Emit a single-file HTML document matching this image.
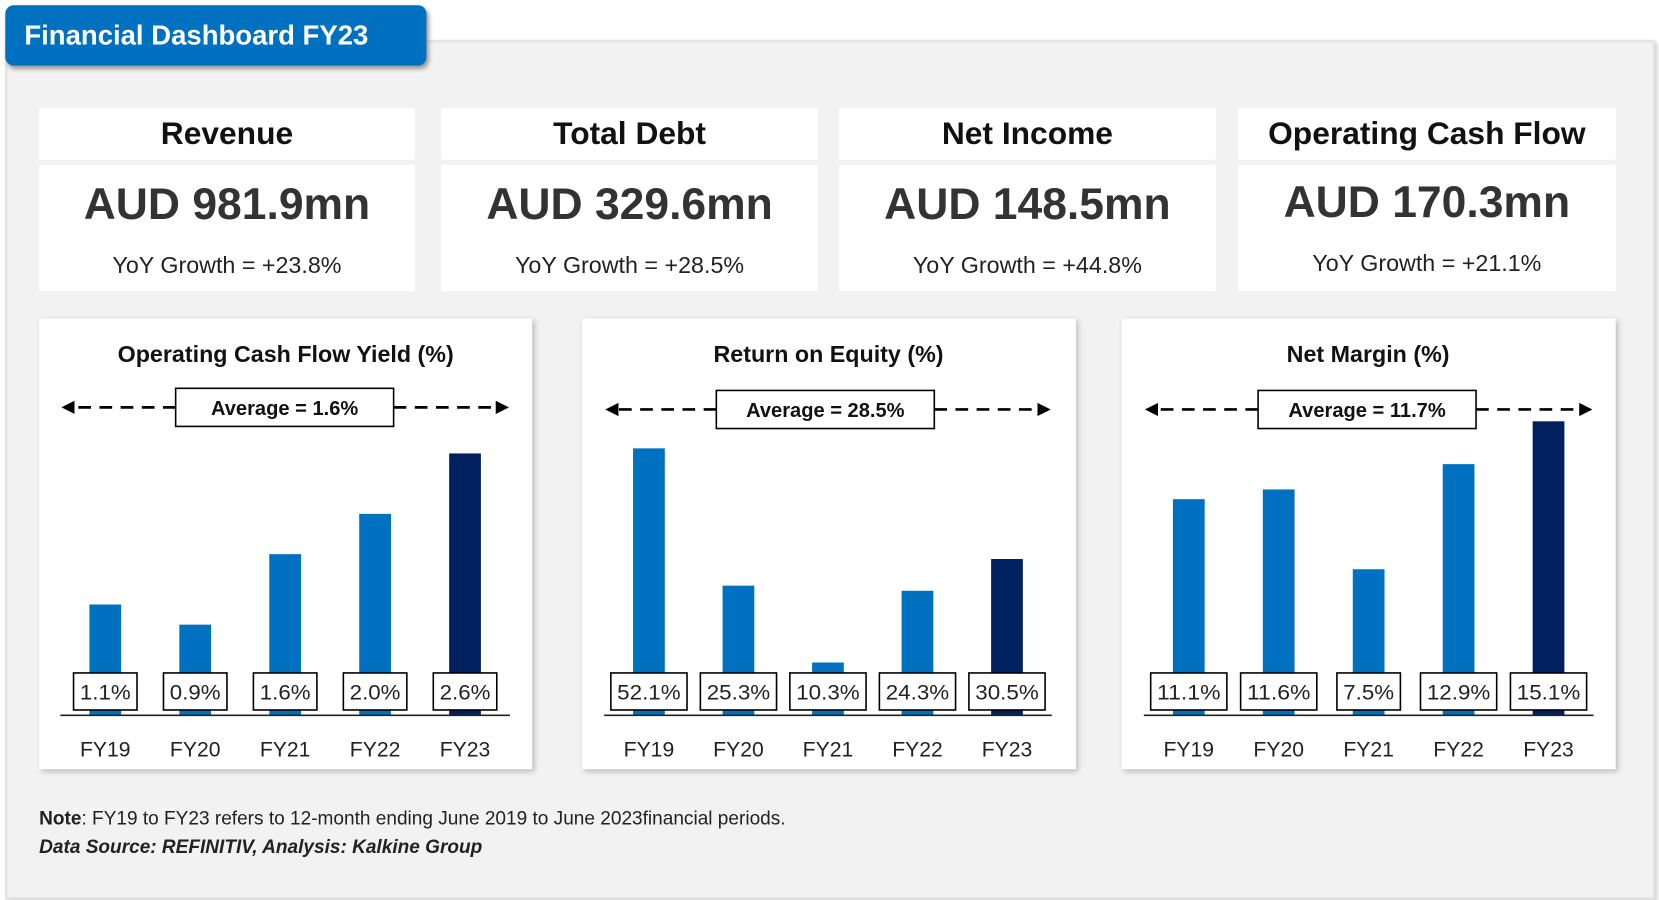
<!DOCTYPE html>
<html><head><meta charset="utf-8">
<style>
html,body{margin:0;padding:0;width:1659px;height:900px;overflow:hidden;background:#fff;font-family:"Liberation Sans",sans-serif;}
#root{position:absolute;left:0;top:0;width:1568px;height:851px;transform:scale(1.0581);transform-origin:0 0;}
.abs{position:absolute;}
.panel{position:absolute;left:5px;top:38px;width:1555px;height:808px;background:#f2f2f2;border:2px solid #e2e2e2;box-shadow:2px 2px 4px #ccc;}
.tab{position:absolute;left:5px;top:5px;width:398px;height:57px;background:#0070c0;border-radius:8px;color:#fff;font-weight:bold;font-size:26px;line-height:57px;padding-left:18px;box-sizing:border-box;box-shadow:2px 3px 4px #999;}
.kh{position:absolute;height:49px;background:#fff;text-align:center;font-weight:bold;font-size:30px;line-height:49px;color:#111;}
.kb{position:absolute;height:119px;background:#fff;text-align:center;color:#333;}
.kv{position:absolute;left:0;right:0;top:13px;font-weight:bold;font-size:42px;}
.ky{position:absolute;left:0;right:0;top:82px;font-size:22px;color:#222;}
.cp{position:absolute;top:301px;height:426px;background:#fff;box-shadow:2px 2px 5px #bbb;}
svg text{font-family:"Liberation Sans",sans-serif;}
</style></head><body>
<div id="root">
<div class="panel"></div>
<div class="tab">Financial Dashboard FY23</div>

<div class="kh" style="left:37px;width:355px;top:102px">Revenue</div>
<div class="kb" style="left:37px;width:355px;top:156px"><div class="kv">AUD 981.9mn</div><div class="ky">YoY Growth = +23.8%</div></div>
<div class="kh" style="left:417px;width:356px;top:102px">Total Debt</div>
<div class="kb" style="left:417px;width:356px;top:156px"><div class="kv">AUD 329.6mn</div><div class="ky">YoY Growth = +28.5%</div></div>
<div class="kh" style="left:793px;width:356px;top:102px">Net Income</div>
<div class="kb" style="left:793px;width:356px;top:156px"><div class="kv">AUD 148.5mn</div><div class="ky">YoY Growth = +44.8%</div></div>
<div class="kh" style="left:1170px;width:357px;top:102px">Operating Cash Flow</div>
<div class="kb" style="left:1170px;width:357px;top:156px"><div class="kv" style="top:11px">AUD 170.3mn</div><div class="ky" style="top:80px">YoY Growth = +21.1%</div></div>

<div class="cp" style="left:37px;width:466px"></div>
<div class="cp" style="left:550px;width:467px"></div>
<div class="cp" style="left:1060px;width:467px"></div>

<svg id="charts" class="abs" style="left:0;top:0" width="1568" height="851">
<defs><marker id="ah" markerWidth="5" markerHeight="5" refX="3" refY="2.5" orient="auto"><path d="M0,0 L5,2.5 L0,5 z" fill="#000"/></marker></defs>
</svg>

<div class="abs" style="left:37px;top:763px;font-size:18px;color:#222"><b>Note</b>: FY19 to FY23 refers to 12-month ending June 2019 to June 2023financial periods.</div>
<div class="abs" style="left:37px;top:790px;font-size:18px;font-weight:bold;font-style:italic;color:#222">Data Source: REFINITIV, Analysis: Kalkine Group</div>
</div>
<script>
const categories = ["FY19","FY20","FY21","FY22","FY23"];
const ocfYield = [1.1, 0.9, 1.6, 2.0, 2.6];
const roe = [52.1, 25.3, 10.3, 24.3, 30.5];
const netMargin = [11.1, 11.6, 7.5, 12.9, 15.1];
const chartTitles = ["Operating Cash Flow Yield (%)","Return on Equity (%)","Net Margin (%)"];
const averages = ["Average = 1.6%","Average = 28.5%","Average = 11.7%"];
const yMax = [2.9, 57, 15];

const NS="http://www.w3.org/2000/svg";
const svg=document.getElementById('charts');
function mk(tag,attrs,parent){const e=document.createElementNS(NS,tag);for(const k in attrs)e.setAttribute(k,attrs[k]);(parent||svg).appendChild(e);return e;}
const layouts=[{x0:57,x1:482,cx:270,avgX:166,avgY:367},{x0:571,x1:994,cx:783,avgX:677,avgY:369},{x0:1081,x1:1506,cx:1293,avgX:1189,avgY:369}];
const series=[ocfYield,roe,netMargin];
const names=["ocf-yield","roe","net-margin"];
const baseY=676, plotH=276;
layouts.forEach((L,ci)=>{
  const g=mk('g',{});
  
  
  const t=mk('text',{x:L.cx,y:342,'text-anchor':'middle','font-size':22,'font-weight':'bold',fill:'#111'},g);
  t.textContent=chartTitles[ci];
  
  
  const ay=L.avgY+18;
  const l1=mk('line',{x1:L.avgX,y1:ay,x2:L.x0+6,y2:ay,stroke:'#000','stroke-width':2.5,'stroke-dasharray':'12,8','marker-end':'url(#ah)'},g);
  
  
  const l2=mk('line',{x1:L.avgX+206,y1:ay,x2:L.x1-6,y2:ay,stroke:'#000','stroke-width':2.5,'stroke-dasharray':'12,8','marker-end':'url(#ah)'},g);
  
  
  const ab=mk('rect',{x:L.avgX,y:L.avgY,width:206,height:36,fill:'#fff',stroke:'#000','stroke-width':1.5},g);
  
  
  const at=mk('text',{x:L.avgX+103,y:L.avgY+25,'text-anchor':'middle','font-size':19,'font-weight':'bold',fill:'#111'},g);
  at.textContent=averages[ci];
  
  
  const band=(L.x1-L.x0)/categories.length;
  const yScale=v=>baseY - v/yMax[ci]*plotH;
  series[ci].forEach((v,i)=>{
    const cx=L.x0+band*(i+0.5);
    const y=yScale(v);
    const b=mk('rect',{x:cx-15,y:y,width:30,height:baseY-y,fill:i===categories.length-1?'#002060':'#0070c0'},g);
    
    
    const lbl=(v.toFixed(1))+'%';
    const w=lbl.length>4?72:60;
    const lb=mk('rect',{x:cx-w/2,y:636,width:w,height:35,fill:'#fff',stroke:'#000','stroke-width':1.5},g);
    
    
    const lt=mk('text',{x:cx,y:661,'text-anchor':'middle','font-size':20,fill:'#222','textLength':lbl.length>4?60:48,'lengthAdjust':'spacingAndGlyphs'},g);
    lt.textContent=lbl;
    
    
    const ct=mk('text',{x:cx,y:715,'text-anchor':'middle','font-size':20,fill:'#222'},g);
    ct.textContent=categories[i];
    
    
  });
  const ax=mk('line',{x1:L.x0,y1:baseY,x2:L.x1,y2:baseY,stroke:'#222','stroke-width':1.5},g);
  
  
});
</script>
</body></html>
